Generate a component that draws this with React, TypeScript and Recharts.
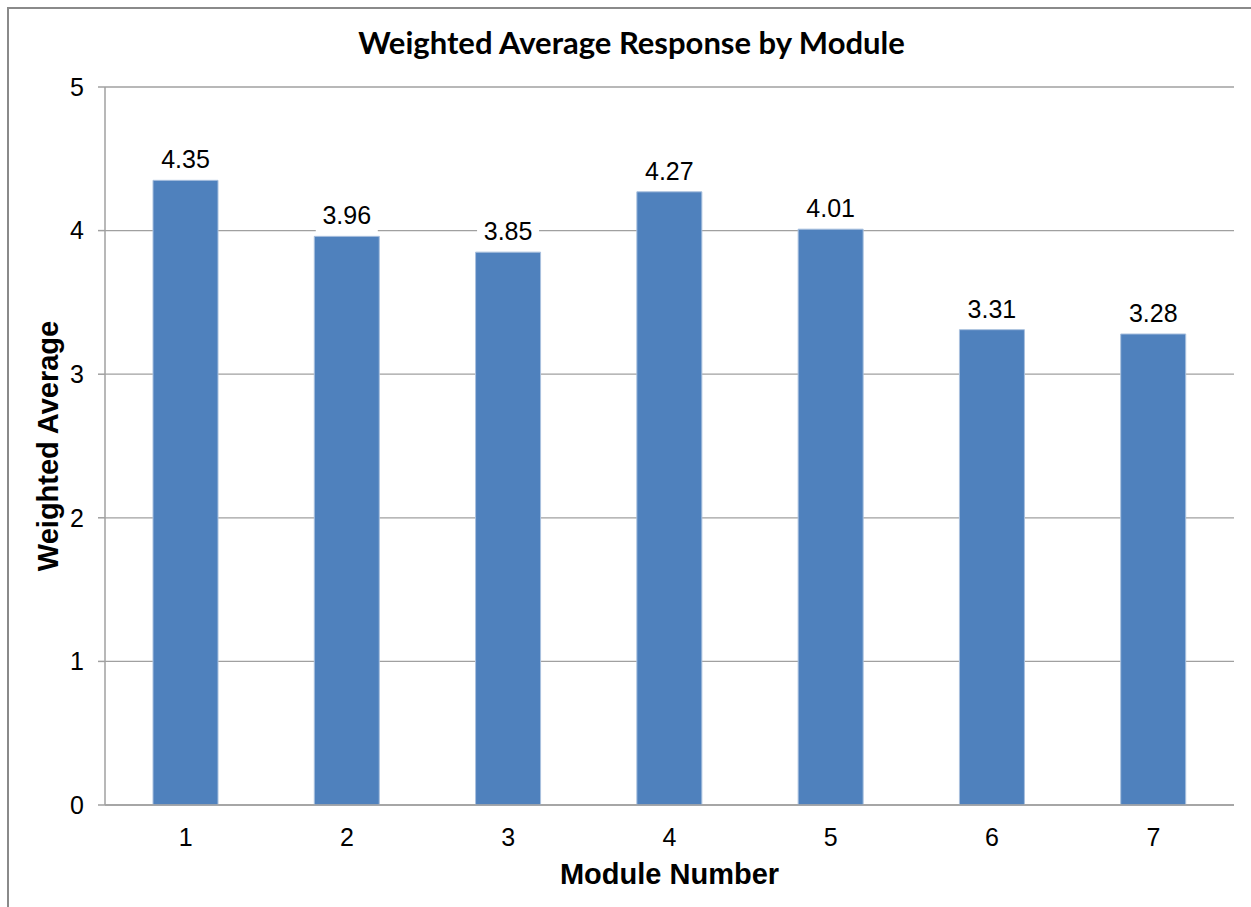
import { BarChart, Bar, XAxis, YAxis, CartesianGrid, LabelList, Label } from "recharts";

const modules = ["1", "2", "3", "4", "5", "6", "7"];
const averages = [4.35, 3.96, 3.85, 4.27, 4.01, 3.31, 3.28];
const yTicks = [0, 1, 2, 3, 4, 5];
const boundaryTicks = [0, 1, 2, 3, 4, 5, 6, 7];

const data = modules.map((m, i) => ({ module: m, avg: averages[i] }));

const AXIS_GRAY = "#a0a0a0";
const BAR_BLUE = "#4f81bd";
const FONT = "'Liberation Sans', Arial, sans-serif";

// value label with a white box behind it, so the gridline is hidden under it
function ValueLabel(props: any) {
  const { x, y, width, value } = props;
  const cx = x + width / 2;
  const base = y - 12;
  const text = Number(value).toFixed(2);
  return (
    <g>
      <rect x={cx - 31} y={base - 22} width={62} height={31} fill="#fff" />
      <text x={cx} y={base} textAnchor="middle" fontFamily={FONT} fontSize={25} fill="#000">
        {text}
      </text>
    </g>
  );
}

export default function App() {
  return (
    <div style={{ position: "absolute", left: 0, top: 0, width: 1251, height: 907, background: "#fff", overflow: "hidden" }}>
      <div
        style={{
          position: "absolute",
          left: 7,
          top: 7,
          width: 1300,
          height: 1000,
          borderTop: "2px solid #8a8a8a",
          borderLeft: "2px solid #8a8a8a",
        }}
      />
      <div
        style={{
          position: "absolute",
          left: 0,
          top: 23,
          width: 1263,
          textAlign: "center",
          fontFamily: "Lato, 'Open Sans', sans-serif",
          fontWeight: 700,
          fontSize: 31,
          color: "#000",
          lineHeight: "38px",
        }}
      >
        Weighted Average Response by Module
      </div>
      <div style={{ position: "absolute", left: 0, top: 0 }}>
        <BarChart width={1251} height={907} data={data} margin={{ top: 87, right: 17, bottom: 0, left: 0 }}>
          <CartesianGrid xAxisId="cat" vertical={false} stroke={AXIS_GRAY} strokeWidth={1.3} />
          <XAxis
            xAxisId="edges"
            type="number"
            domain={[0, 7]}
            ticks={boundaryTicks}
            tickFormatter={() => ""}
            axisLine={false}
            tickLine={{ stroke: AXIS_GRAY, strokeWidth: 1.5 }}
            tickSize={8}
            height={0}
          />
          <XAxis
            xAxisId="cat"
            dataKey="module"
            height={102}
            tickLine={false}
            axisLine={{ stroke: AXIS_GRAY, strokeWidth: 1.5 }}
            tick={{ fontFamily: FONT, fontSize: 25, fill: "#000" }}
            tickMargin={17}
          >
            <Label
              value="Module Number"
              position="insideBottom"
              offset={23}
              style={{ fontFamily: FONT, fontSize: 29, fontWeight: 700, fill: "#000" }}
            />
          </XAxis>
          <YAxis
            domain={[0, 5]}
            ticks={yTicks}
            width={105}
            tickSize={7}
            tickMargin={14}
            axisLine={{ stroke: AXIS_GRAY, strokeWidth: 1.5 }}
            tickLine={{ stroke: AXIS_GRAY, strokeWidth: 1.5 }}
            tick={{ fontFamily: FONT, fontSize: 25, fill: "#000" }}
          >
            <Label
              value="Weighted Average"
              angle={-90}
              position="center"
              dx={-5}
              style={{ fontFamily: FONT, fontSize: 29, fontWeight: 700, fill: "#000", textAnchor: "middle" }}
            />
          </YAxis>
          <Bar
            xAxisId="cat"
            dataKey="avg"
            fill={BAR_BLUE}
            stroke="#a9c0de"
            strokeWidth={1}
            barSize={65}
            isAnimationActive={false}
          >
            <LabelList dataKey="avg" content={ValueLabel} />
          </Bar>
        </BarChart>
      </div>
    </div>
  );
}
